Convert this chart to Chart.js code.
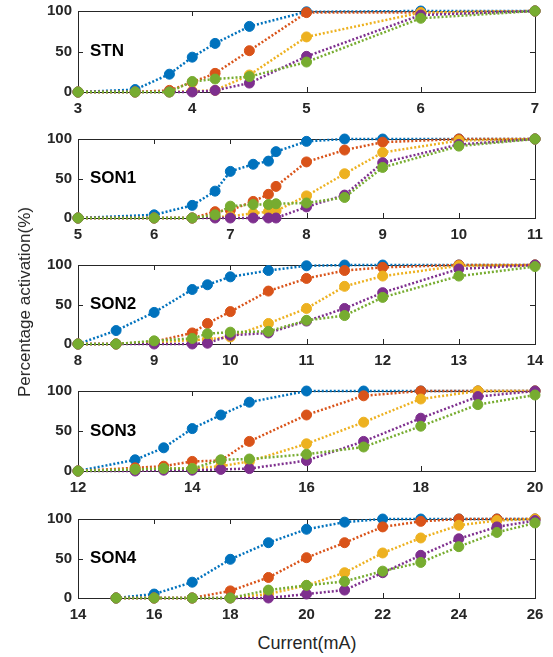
<!DOCTYPE html>
<html>
<head>
<meta charset="utf-8">
<script src="https://cdn.jsdelivr.net/npm/chart.js@4.4.1/dist/chart.umd.min.js"></script>
<style>
  html, body { margin: 0; padding: 0; background: #fff; }
  #wrap { position: relative; width: 553px; height: 657px; overflow: hidden; background: #fff; }
  #wrap canvas { position: absolute; left: 0; }
  .ttl { position: absolute; font-family: "Liberation Sans", Arial, sans-serif; color: #262626; white-space: nowrap; }
</style>
</head>
<body>
<div id="wrap">
  <canvas id="c0"></canvas>
  <canvas id="c1"></canvas>
  <canvas id="c2"></canvas>
  <canvas id="c3"></canvas>
  <canvas id="c4"></canvas>
  <div class="ttl" id="ytitle" style="font-size:17px; left:25px; top:302px; transform: translate(-50%,-50%) rotate(-90deg);">Percentage activation(%)</div>
  <div class="ttl" id="xtitle" style="font-size:18px; left:307px; top:643px; transform: translate(-50%,-50%);">Current(mA)</div>
</div>
<script>
// series colours (MATLAB default order)
const colors = ['#0072BD', '#D95319', '#EDB120', '#7E2F8E', '#77AC30'];

// STN
const stnX      = [3, 3.5, 3.8, 4, 4.2, 4.5, 5, 6, 7];
const stnBlue   = [0, 3, 22, 43, 60, 81, 99, 100, 100];
const stnOrange = [0, 0, 2, 12, 23, 51, 98, 98, 100];
const stnYellow = [0, 0, 0, 1, 2, 21, 68, 98, 100];
const stnPurple = [0, 0, 0, 0, 2, 11, 44, 95, 100];
const stnGreen  = [0, 0, 0, 13, 16, 19, 37, 91, 100];

// SON1
const son1X      = [5, 6, 6.5, 6.8, 7, 7.3, 7.5, 7.6, 8, 8.5, 9, 10, 11];
const son1Blue   = [0, 4, 16, 34, 59, 68, 72, 84, 97, 100, 100, 100, 100];
const son1Orange = [0, 0, 0, 8, 10, 21, 30, 40, 71, 86, 96, 100, 100];
const son1Yellow = [0, 0, 0, 1, 2, 6, 8, 9, 28, 56, 83, 98, 100];
const son1Purple = [0, 0, 0, 0, 0, 0, 0, 0, 14, 29, 70, 93, 100];
const son1Green  = [0, 0, 0, 4, 15, 17, 17, 18, 19, 26, 64, 91, 100];

// SON2
const son2X      = [8, 8.5, 9, 9.5, 9.7, 10, 10.5, 11, 11.5, 12, 13, 14];
const son2Blue   = [0, 17, 40, 69, 75, 85, 93, 99, 100, 100, 100, 100];
const son2Orange = [0, 0, 3, 14, 26, 41, 67, 83, 93, 97, 100, 100];
const son2Yellow = [0, 0, 2, 5, 6, 9, 26, 45, 73, 86, 99, 100];
const son2Purple = [0, 0, 0, 0, 1, 11, 14, 29, 45, 65, 95, 100];
const son2Green  = [0, 0, 4, 7, 13, 15, 16, 30, 36, 59, 86, 98];

// SON3
const son3X      = [12, 13, 13.5, 14, 14.5, 15, 16, 17, 18, 19, 20];
const son3Blue   = [0, 14, 29, 53, 70, 86, 100, 100, 100, 100, 100];
const son3Orange = [0, 4, 6, 12, 13, 37, 70, 94, 100, 100, 100];
const son3Yellow = [0, 2, 3, 3, 6, 12, 34, 61, 90, 100, 100];
const son3Purple = [0, 0, 1, 1, 2, 3, 13, 37, 66, 93, 100];
const son3Green  = [0, 2, 3, 3, 14, 15, 21, 30, 56, 83, 95];

// SON4
const son4X      = [15, 16, 17, 18, 19, 20, 21, 22, 23, 24, 25, 26];
const son4Blue   = [0, 5, 20, 49, 70, 87, 96, 100, 100, 100, 100, 100];
const son4Orange = [0, 0, 0, 9, 26, 51, 70, 90, 97, 100, 100, 100];
const son4Yellow = [0, 0, 0, 0, 5, 16, 32, 57, 76, 92, 98, 100];
const son4Purple = [0, 0, 0, 0, 0, 5, 10, 32, 54, 75, 90, 98];
const son4Green  = [0, 0, 0, 0, 10, 16, 21, 34, 45, 65, 83, 95];

// panel names and x ranges
const panelNames = ['STN', 'SON1', 'SON2', 'SON3', 'SON4'];
const xMins  = [3, 5, 8, 12, 14];
const xMaxs  = [7, 11, 14, 20, 26];
const xSteps = [1, 1, 1, 2, 2];
const yTicks = [0, 50, 100];

const panels = [
  { x: stnX,  ys: [stnBlue, stnOrange, stnYellow, stnPurple, stnGreen] },
  { x: son1X, ys: [son1Blue, son1Orange, son1Yellow, son1Purple, son1Green] },
  { x: son2X, ys: [son2Blue, son2Orange, son2Yellow, son2Purple, son2Green] },
  { x: son3X, ys: [son3Blue, son3Orange, son3Yellow, son3Purple, son3Green] },
  { x: son4X, ys: [son4Blue, son4Orange, son4Yellow, son4Purple, son4Green] }
];

// plot area top / bottom in page pixels
const plotTops    = [4, 132, 258, 384, 512];
const plotBottoms = [92, 218, 344, 471, 598];
const padTop = 8, xAxisH = 26;

const axisColor = '#262626';
const fontFam = '"Liberation Sans", Arial, sans-serif';

// draws the box, inner tick marks and the panel name
const boxPlugin = {
  id: 'matlabBox',
  beforeDatasetsDraw(chart) {
    const { ctx, chartArea: a, scales } = chart;
    ctx.save();
    ctx.strokeStyle = axisColor;
    ctx.lineWidth = 1;
    ctx.beginPath();
    ctx.moveTo(a.left, a.top + 0.5);
    ctx.lineTo(a.right + 0.5, a.top + 0.5);
    ctx.lineTo(a.right + 0.5, a.bottom);
    ctx.stroke();
    const tl = 5;
    ctx.beginPath();
    scales.x.ticks.forEach(t => {
      const px = Math.round(scales.x.getPixelForValue(t.value)) + 0.5;
      ctx.moveTo(px, a.bottom); ctx.lineTo(px, a.bottom - tl);
      ctx.moveTo(px, a.top); ctx.lineTo(px, a.top + tl);
    });
    scales.y.ticks.forEach(t => {
      const py = Math.round(scales.y.getPixelForValue(t.value)) + 0.5;
      ctx.moveTo(a.left, py); ctx.lineTo(a.left + tl, py);
      ctx.moveTo(a.right, py); ctx.lineTo(a.right - tl, py);
    });
    ctx.stroke();
    ctx.restore();
  },
  afterDraw(chart) {
    const { ctx, chartArea: a, scales } = chart;
    ctx.save();
    ctx.font = 'bold 17px ' + fontFam;
    ctx.fillStyle = '#000';
    ctx.textBaseline = 'middle';
    ctx.fillText(chart.options.plugins.matlabBox.name, a.left + 12, scales.y.getPixelForValue(50));
    ctx.restore();
  }
};

function makePanel(i) {
  const canvas = document.getElementById('c' + i);
  const h = padTop + (plotBottoms[i] - plotTops[i]) + xAxisH;
  canvas.width = 553;
  canvas.height = h;
  canvas.style.top = (plotTops[i] - padTop) + 'px';

  const p = panels[i];
  const datasets = p.ys.map((vals, k) => ({
    data: p.x.map((xv, j) => ({ x: xv, y: vals[j] })),
    borderColor: colors[k],
    backgroundColor: colors[k],
    pointBackgroundColor: colors[k],
    pointBorderColor: colors[k],
    borderWidth: 2.5,
    borderDash: [2, 2],
    pointRadius: 5,
    pointBorderWidth: 1,
    tension: 0,
    clip: false,
    order: 4 - k
  }));

  new Chart(canvas.getContext('2d'), {
    type: 'line',
    data: { datasets: datasets },
    options: {
      responsive: false,
      animation: false,
      layout: { padding: { top: padTop, right: 18, left: 0, bottom: 0 } },
      plugins: {
        legend: { display: false },
        tooltip: { enabled: false },
        matlabBox: { name: panelNames[i] }
      },
      scales: {
        x: {
          type: 'linear',
          min: xMins[i],
          max: xMaxs[i],
          grid: { display: false, drawTicks: false },
          border: { display: true, color: axisColor, width: 1 },
          ticks: {
            stepSize: xSteps[i],
            padding: 8,
            color: axisColor,
            font: { family: fontFam, size: 15, weight: 'bold' },
            maxRotation: 0
          },
          afterFit: s => { s.height = xAxisH; }
        },
        y: {
          min: 0,
          max: 100,
          grid: { display: false, drawTicks: false },
          border: { display: true, color: axisColor, width: 1 },
          afterBuildTicks: s => { s.ticks = yTicks.map(v => ({ value: v })); },
          ticks: {
            padding: 6,
            color: axisColor,
            font: { family: fontFam, size: 15, weight: 'bold' }
          },
          afterFit: s => { s.width = 78; }
        }
      }
    },
    plugins: [boxPlugin]
  });
}

for (let i = 0; i < 5; i++) makePanel(i);
</script>
</body>
</html>
